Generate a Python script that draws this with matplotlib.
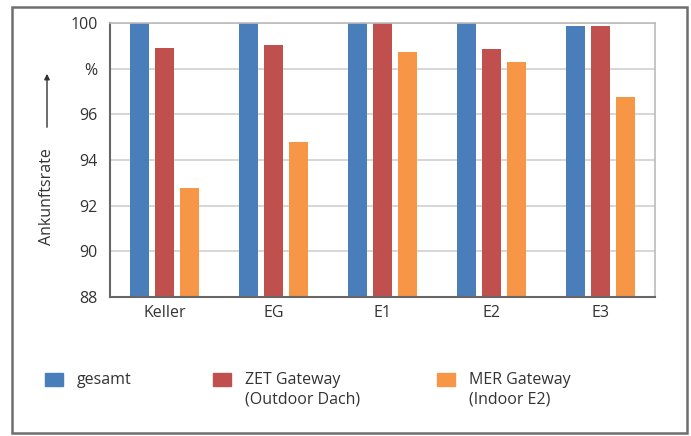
import matplotlib.pyplot as plt
import numpy as np
from matplotlib.patches import Rectangle

plt.rcParams['font.family'] = ['Open Sans', 'DejaVu Sans']

stockwerke = ["Keller", "EG", "E1", "E2", "E3"]
gesamt = [100.0, 100.0, 100.0, 100.0, 99.85]
zet = [98.9, 99.05, 100.0, 98.87, 99.85]
mer = [92.76, 94.77, 98.73, 98.28, 96.75]
y_ticks = [88, 90, 92, 94, 96, 98, 100]
y_labels = ["88", "90", "92", "94", "96", "%", "100"]

fig = plt.figure(figsize=(6.91, 4.36), dpi=100)
ax = fig.add_axes([110/691, 1-297/436, 545/691, 274/436])

x = np.arange(len(stockwerke))
w = 0.175
d = 0.232
ax.bar(x - d, gesamt, w, color='#4a7ebb', label='gesamt', zorder=2)
ax.bar(x, zet, w, color='#c0504d', label='ZET Gateway\n(Outdoor Dach)', zorder=2)
ax.bar(x + d, mer, w, color='#f79646', label='MER Gateway\n(Indoor E2)', zorder=2)

ax.set_ylim(88, 100)
ax.set_xlim(-0.5, 4.5)
ax.set_yticks(y_ticks)
ax.set_yticklabels(y_labels)
ax.set_xticks(x)
ax.set_xticklabels(stockwerke)
ax.tick_params(axis='both', length=0, labelsize=11.5, labelcolor='#333333', pad=6)
ax.tick_params(axis='y', pad=9)
ax.grid(axis='y', color='#d0d0d0', linewidth=1.2, zorder=0)
for s in ['left', 'bottom']:
    ax.spines[s].set_color('#666666')
    ax.spines[s].set_linewidth(1.5)
for s in ['top', 'right']:
    ax.spines[s].set_color('#bbbbbb')
    ax.spines[s].set_linewidth(1.2)

# y-Achsentitel mit Pfeil
fig.text(47/691, 1-197/436, "Ankunftsrate", rotation=90, ha='center', va='center',
         fontsize=11.5, color='#333333')
ax.annotate("", xy=(47/691, 1-71/436), xytext=(47/691, 1-130/436),
            xycoords='figure fraction', textcoords='figure fraction',
            arrowprops=dict(arrowstyle='-|>', color='#333333', lw=1, mutation_scale=8))

# Legende unten
items = [(45, 'gesamt', '#4a7ebb'), (213, 'ZET Gateway\n(Outdoor Dach)', '#c0504d'),
         (437, 'MER Gateway\n(Indoor E2)', '#f79646')]
for px, txt, col in items:
    fig.patches.append(Rectangle((px/691, 1-386/436), 18/691, 13/436,
                                 transform=fig.transFigure, color=col))
    fig.text((px+32)/691, 1-372/436, txt, ha='left', va='top', fontsize=11.5,
             color='#333333', linespacing=1.25)

# Rahmen
fig.patches.append(Rectangle((12/691, 3/436), 675/691, 426/436, transform=fig.transFigure,
                             fill=False, edgecolor='#6e6e6e', linewidth=1.8))

fig.savefig('out.png', dpi=100)
